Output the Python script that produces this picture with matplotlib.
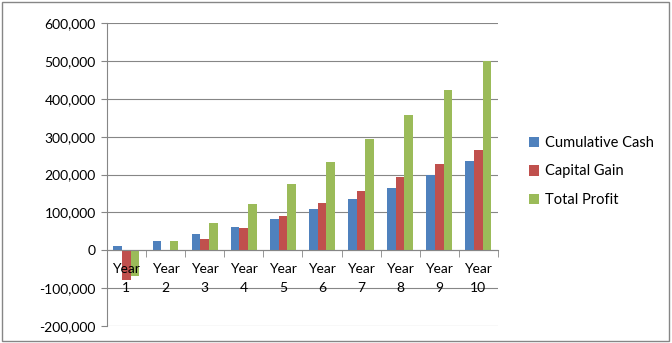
import numpy as np
import matplotlib
matplotlib.use("Agg")
import matplotlib.pyplot as plt
from matplotlib.patches import Rectangle
from matplotlib.ticker import FuncFormatter

years = ["Year\n1", "Year\n2", "Year\n3", "Year\n4", "Year\n5",
         "Year\n6", "Year\n7", "Year\n8", "Year\n9", "Year\n10"]
cumulative_cash = [12000, 25000, 42000, 61000, 82000, 108000, 135000, 164000, 200000, 235000]
capital_gain = [-79000, 0, 29000, 58000, 90000, 124000, 156000, 193000, 227000, 264000]
total_profit = [-67000, 25000, 72000, 122000, 175000, 233000, 293000, 357000, 424000, 500000]

series_names = ["Cumulative Cash", "Capital Gain", "Total Profit"]
colors = ["#4F81BD", "#C0504D", "#9BBB59"]

plt.rcParams['font.family'] = ['Lato', 'DejaVu Sans']
grey = "#868686"

fig = plt.figure(figsize=(6.72, 3.43), dpi=100)
ax = fig.add_axes([0.159, 0.0496, 0.582, 0.883])
ax.set_axisbelow(True)

x = np.arange(len(years))
w = 0.22
for k, vals in enumerate([cumulative_cash, capital_gain, total_profit]):
    ax.bar(x + (k - 1) * w, vals, w, color=colors[k], label=series_names[k], zorder=3)

ax.set_xlim(-0.5, len(years) - 0.5)
ax.set_ylim(-200000, 600000)
ax.set_yticks(np.arange(-200000, 600001, 100000))
ax.yaxis.set_major_formatter(FuncFormatter(lambda v, p: "{:,.0f}".format(v)))
ax.grid(axis='y', color=grey, linewidth=0.8)

# category axis sits on the zero line
ax.spines['bottom'].set_position(('data', 0))
ax.spines['bottom'].set_color(grey)
ax.spines['bottom'].set_zorder(4)
ax.spines['left'].set_color(grey)
ax.spines['top'].set_visible(False)
ax.spines['right'].set_visible(False)
ax.set_xticks(x)
ax.set_xticklabels([])
ax.set_xticks(np.arange(-0.5, len(years), 1.0), minor=True)
ax.tick_params(axis='x', which='major', length=0)
ax.tick_params(axis='x', which='minor', length=5, color=grey, direction='out')
ax.tick_params(axis='y', length=4, color=grey, labelsize=10, pad=4)

# category labels drawn over the bars, like Excel does
for i, lbl in enumerate(years):
    ax.annotate(lbl, (x[i], 0), xytext=(0, -9), textcoords='offset points',
                ha='center', va='top', fontsize=10, linespacing=1.75, zorder=6)

ax.legend(loc='center left', bbox_to_anchor=(0.768, 0.5), bbox_transform=fig.transFigure,
          frameon=False, fontsize=10.5, handlelength=0.7, handleheight=0.7,
          handletextpad=0.4, labelspacing=1.0)

fig.patches.append(Rectangle((0.003, 0.006), 0.993, 0.988, transform=fig.transFigure,
                             fill=False, edgecolor=grey, linewidth=1))

fig.savefig("out.png", dpi=100)
